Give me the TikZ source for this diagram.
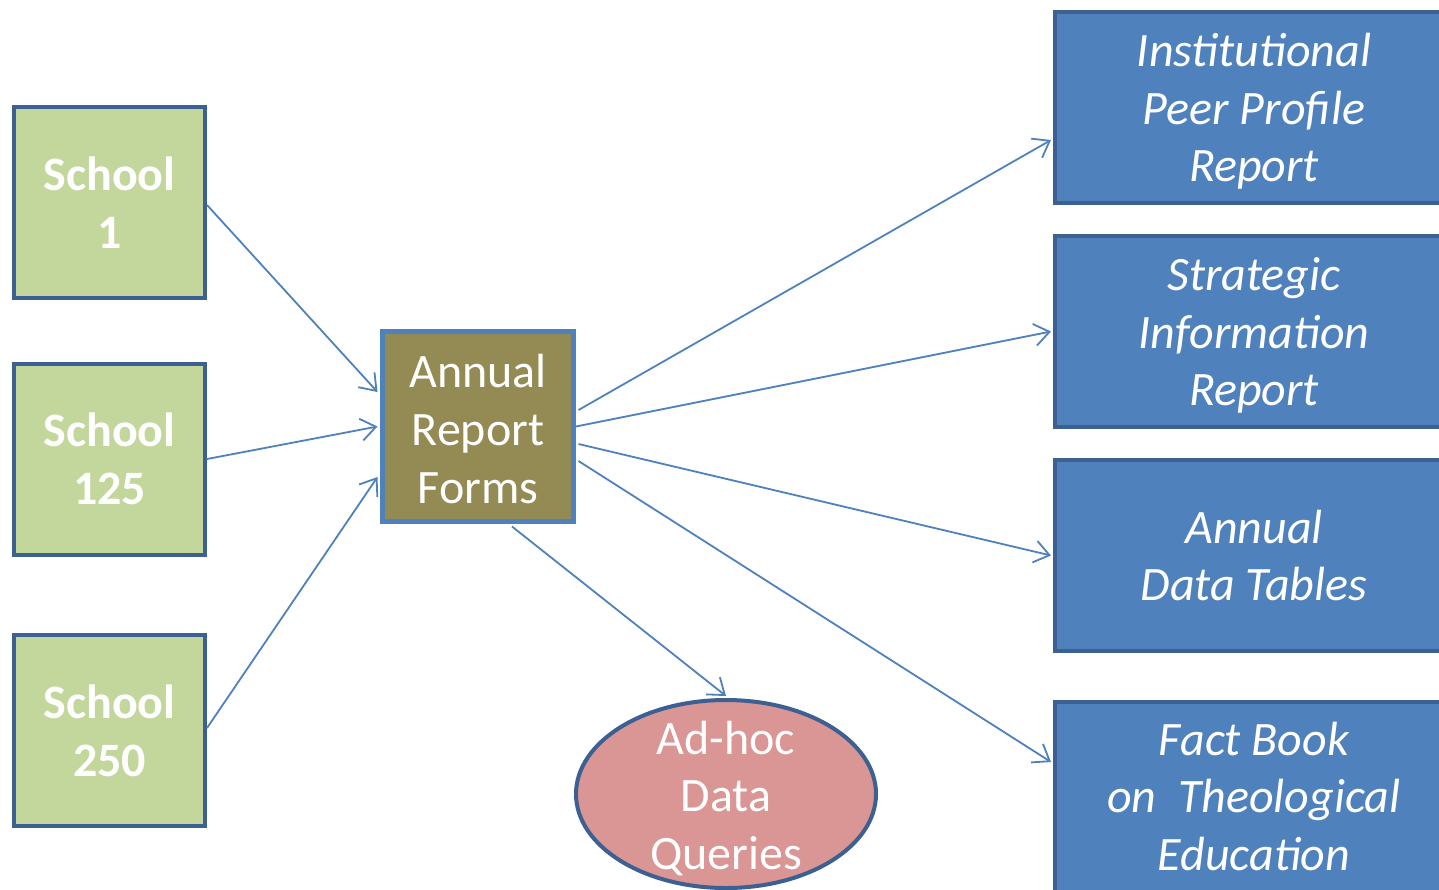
\documentclass[tikz,border=0pt]{standalone}
\usepackage{fontspec}
\setmainfont{Carlito}
\usetikzlibrary{arrows.meta,shapes.geometric,calc}
\definecolor{schoolfill}{HTML}{C3D69B}
\definecolor{darkborder}{HTML}{3B6091}
\definecolor{bluefill}{HTML}{4F81BD}
\definecolor{olivefill}{HTML}{948A54}
\definecolor{rosefill}{HTML}{D99694}
\tikzset{
  boxtext/.style={text=white, align=center, inner sep=0pt},
  schoolbox/.style={draw=darkborder, fill=schoolfill, line width=4pt, minimum width=191pt, minimum height=191pt,
    inner sep=0pt},
  formbox/.style={draw=bluefill, fill=olivefill, line width=5pt, minimum width=191pt, minimum height=190pt,
    inner sep=0pt},
  reportbox/.style={draw=darkborder, fill=bluefill, line width=4pt, minimum width=398pt, minimum height=191pt,
    inner sep=0pt},
  queryell/.style={ellipse, draw=darkborder, fill=rosefill, line width=4pt, minimum width=300pt, minimum height=188pt,
    inner sep=0pt},
  schooltext/.style={boxtext, font=\fontsize{48}{58}\selectfont\bfseries},
  formtext/.style={boxtext, font=\fontsize{48}{58}\selectfont, yshift=-3pt},
  reporttext/.style={boxtext, font=\fontsize{48}{57.5}\selectfont\itshape},
  querytext/.style={boxtext, font=\fontsize{48}{57.5}\selectfont, yshift=-4pt},
  flow/.style={draw=bluefill, line width=1.8pt, -{Straight Barb[length=15pt,width=22pt,line width=1.8pt]}}
}
\begin{document}
\begin{tikzpicture}[x=1pt,y=-1pt]
\clip (0,0) rectangle (1439,889);
\useasboundingbox (0,0) rectangle (1439,889);
\fill[white] (0,0) rectangle (1439,889);

\node[schoolbox, label={[schooltext]center:School\\1}] (s1) at (109.5,202.5) {};
\node[schoolbox, label={[schooltext]center:School\\125}] (s125) at (109.5,459) {};
\node[schoolbox, label={[schooltext]center:School\\250}] (s250) at (109.5,730.5) {};

\node[formbox, label={[formtext]center:Annual\\Report\\Forms}] (arf) at (478,426.5) {};

\node[reportbox, label={[reporttext, yshift=-4pt]center:Institutional\\Peer Profile\\Report}] (r1) at (1254,107.5) {};
\node[reportbox, label={[reporttext, yshift=-4pt]center:Strategic\\Information\\Report}] (r2) at (1254,331.5) {};
\node[reportbox, label={[reporttext]center:Annual\\Data Tables}] (r3) at (1254,555.5) {};
\node[reportbox, label={[reporttext, yshift=1pt]center:Fact Book\\on\ \ Theological\\Education}] (r4) at (1254,797) {};

\node[queryell, label={[querytext]center:Ad-hoc\\Data\\Queries}] (adhoc) at (726,794) {};

\draw[flow] ([yshift=-2.5pt]s1.east) -- ([xshift=-2.5pt,yshift=34.5pt]arf.west);
\draw[flow] (s125.east) -- ([xshift=-2.5pt]arf.west);
\draw[flow] ([yshift=2.5pt]s250.east) -- ([xshift=-2.5pt,yshift=-50.5pt]arf.west);

\draw[flow] ([xshift=2.5pt,yshift=16.5pt]arf.east) -- ([xshift=-2pt,yshift=-32.5pt]r1.west);
\draw[flow] (arf.east) -- ([xshift=-2pt]r2.west);
\draw[flow] ([xshift=2.5pt,yshift=-17.5pt]arf.east) -- ([xshift=-2pt]r3.west);
\draw[flow] ([xshift=2.5pt,yshift=-34.5pt]arf.east) -- ([xshift=-2pt,yshift=35pt]r4.west);

\draw[flow] ([xshift=34pt,yshift=-2.5pt]arf.south) -- ([yshift=2pt]adhoc.north);
\end{tikzpicture}
\end{document}
